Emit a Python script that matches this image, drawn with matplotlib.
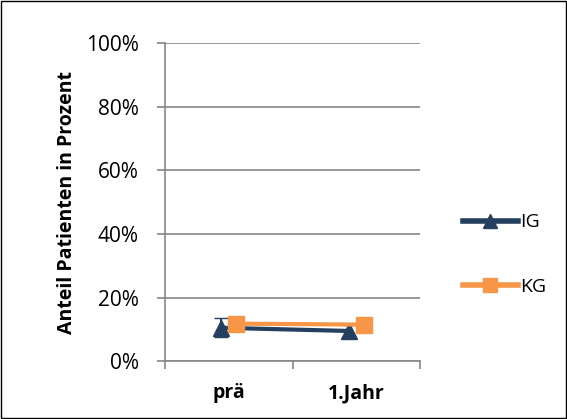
import matplotlib
matplotlib.use("Agg")
import matplotlib.pyplot as plt
from matplotlib.lines import Line2D
import numpy as np

categories = ["prä", "1.Jahr"]
ig = [10.5, 9.5]
ig_err = [3.0, 2.0]
kg = [11.8, 11.5]
kg_err = [2.0, 2.0]

plt.rcParams['font.family'] = ['Open Sans', 'DejaVu Sans']

fig = plt.figure(figsize=(5.67, 4.19), dpi=100)
ax = fig.add_axes([0.291, 0.138, 0.45, 0.759])

x = np.arange(len(categories))
ax.errorbar(x - 0.06, ig, yerr=ig_err, color="#243F60", lw=3, marker="^", ms=12,
            capsize=5, elinewidth=1.5, zorder=3)
ax.errorbar(x + 0.06, kg, yerr=kg_err, color="#F79646", lw=3, marker="s", ms=12,
            capsize=5, elinewidth=1.5, zorder=4)

ax.set_xlim(-0.5, 1.5)
ax.set_ylim(0, 100)
ax.set_yticks(range(0, 101, 20))
ax.set_yticklabels([f"{v}%" for v in range(0, 101, 20)], fontsize=15)
ax.set_xticks(x)
ax.set_xticklabels(categories, fontsize=14, fontweight="bold")
ax.set_xticks([-0.5, 0.5, 1.5], minor=True)
ax.tick_params(axis="x", which="major", length=0, pad=16)
ax.tick_params(axis="x", which="minor", length=6, color="#868686", width=1.2)
ax.tick_params(axis="y", length=6, color="#868686", width=1.2, pad=13)
ax.grid(axis="y", color="#868686", lw=1.2)
ax.set_axisbelow(True)
for s in ["top", "right"]:
    ax.spines[s].set_visible(False)
for s in ["left", "bottom"]:
    ax.spines[s].set_color("#868686")
    ax.spines[s].set_linewidth(1.2)
ax.set_ylabel("Anteil Patienten in Prozent", fontsize=14, fontweight="bold", labelpad=6)

handles = [Line2D([], [], color="#243F60", lw=4, marker="^", ms=10),
           Line2D([], [], color="#F79646", lw=4, marker="s", ms=10)]
ax.legend(handles, ["IG", "KG"], loc="center left", bbox_to_anchor=(1.1, 0.335),
          frameon=False, fontsize=14, handlelength=2.8, labelspacing=2.4, handletextpad=0.15)

fig.patches.append(plt.Rectangle((0.002, 0.002), 0.996, 0.996, transform=fig.transFigure,
                                 fill=False, edgecolor="black", lw=1))
fig.savefig("out.png", dpi=100)
